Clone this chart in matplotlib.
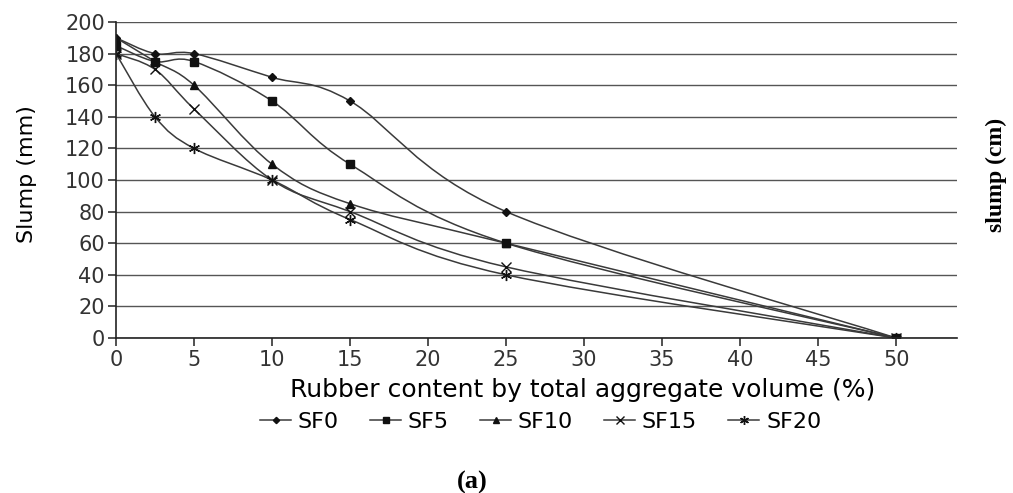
import numpy as np
import matplotlib.pyplot as plt
from matplotlib.path import Path
from matplotlib.patches import PathPatch

rubber = [0, 2.5, 5, 10, 15, 25, 50]
sf0 = [190, 180, 180, 165, 150, 80, 0]
sf5 = [185, 175, 175, 150, 110, 60, 0]
sf10 = [190, 175, 160, 110, 85, 60, 0]
sf15 = [180, 170, 145, 100, 80, 45, 0]
sf20 = [180, 140, 120, 100, 75, 40, 0]

series = [('SF0', sf0, 'D', 4), ('SF5', sf5, 's', 6), ('SF10', sf10, '^', 6),
          ('SF15', sf15, 'x', 7), ('SF20', sf20, (6, 2, 0), 8)]

plt.rcParams['font.family'] = ['DejaVu Sans']
lc = '#3a3a3a'


def smooth_path(x, y):
    # excel-like smoothed line, bezier segments through the points
    p = np.column_stack([x, y]).astype(float)
    pts = np.vstack([p[0], p, p[-1]])
    verts = [tuple(p[0])]
    codes = [Path.MOVETO]
    for i in range(1, len(pts) - 2):
        c1 = pts[i] + (pts[i + 1] - pts[i - 1]) / 6.0
        c2 = pts[i + 1] - (pts[i + 2] - pts[i]) / 6.0
        verts += [tuple(c1), tuple(c2), tuple(pts[i + 1])]
        codes += [Path.CURVE4] * 3
    return Path(verts, codes)


fig = plt.figure(figsize=(10.13, 4.93), dpi=100)
ax = fig.add_axes([116 / 1013, 1 - 338 / 493, (957 - 116) / 1013, (338 - 22) / 493])

for name, vals, mk, ms in series:
    ax.add_patch(PathPatch(smooth_path(rubber, vals), fill=False, edgecolor=lc, lw=1.1))
    ax.plot(rubber, vals, ls='none', marker=mk, ms=ms, color='#111111', mew=1.0)
    ax.plot([], [], color=lc, lw=1.1, marker=mk, ms=ms * 0.8, mfc='#111111', mec='#111111', label=name)

ax.set_xlim(0, 53.9)
ax.set_ylim(0, 200)
ax.set_xticks(range(0, 55, 5))
ax.set_yticks(range(0, 201, 20))
ax.yaxis.grid(True, color='#555555', lw=1.0)
ax.set_axisbelow(True)
for s in ['top', 'right']:
    ax.spines[s].set_visible(False)
for s in ['left', 'bottom']:
    ax.spines[s].set_color('#222222')
    ax.spines[s].set_linewidth(1.2)
ax.tick_params(axis='both', direction='out', length=6, labelsize=15, colors='#333333', width=1.2)
ax.tick_params(axis='y', pad=2)
ax.tick_params(axis='x', pad=3)

ax.set_ylabel('Slump (mm)', fontsize=16)
ax.yaxis.set_label_coords(-0.094, 0.52)
ax.set_xlabel('Rubber content by total aggregate volume (%)', fontsize=18)
ax.xaxis.set_label_coords(0.555, -0.125)

ax.legend(loc='upper center', bbox_to_anchor=(0.505, -0.17), ncol=5, frameon=False,
          fontsize=16, handlelength=1.4, handletextpad=0.3, columnspacing=1.4)

fig.text(0.984, 0.645, 'slump (cm)', rotation=90, ha='center', va='center',
         family='Liberation Serif', fontweight='bold', fontsize=17)
fig.text(0.466, 0.022, '(a)', ha='center', va='center',
         family='Liberation Serif', fontweight='bold', fontsize=19)

fig.savefig('out.png', dpi=100)
